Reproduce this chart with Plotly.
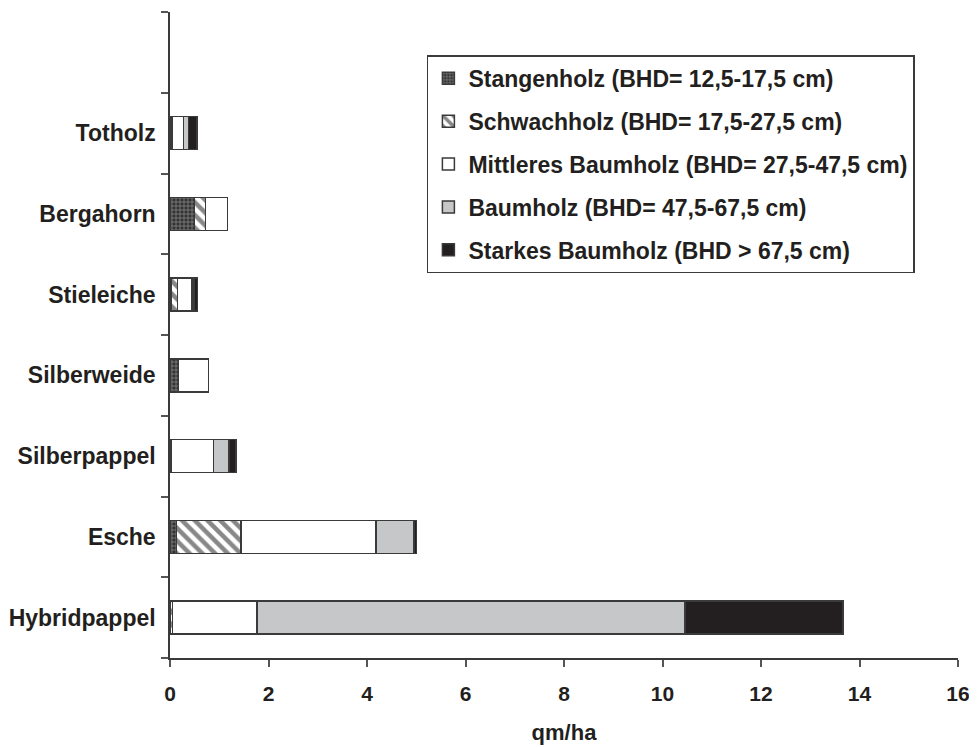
import plotly.graph_objects as go

categories = ["Hybridpappel", "Esche", "Silberpappel", "Silberweide", "Stieleiche", "Bergahorn", "Totholz"]
stangenholz = [0.0, 0.13, 0.0, 0.17, 0.02, 0.50, 0.0]
schwachholz = [0.05, 1.31, 0.03, 0.0, 0.13, 0.22, 0.04]
mittleres = [1.72, 2.74, 0.85, 0.61, 0.30, 0.45, 0.23]
baumholz = [8.69, 0.77, 0.32, 0.0, 0.04, 0.0, 0.11]
starkes = [3.20, 0.05, 0.14, 0.0, 0.07, 0.0, 0.17]

series_names = [
    "Stangenholz (BHD= 12,5-17,5 cm)",
    "Schwachholz (BHD= 17,5-27,5 cm)",
    "Mittleres Baumholz (BHD= 27,5-47,5 cm)",
    "Baumholz (BHD= 47,5-67,5 cm)",
    "Starkes Baumholz (BHD > 67,5 cm)",
]
x_ticks = [0, 2, 4, 6, 8, 10, 12, 14, 16]

styles = [
    dict(color="#3a3a3a", pattern=dict(shape="+", fgcolor="#d8d8d8", bgcolor="#333333", size=4, solidity=0.35)),
    dict(color="#ffffff", pattern=dict(shape="\\", fgcolor="#111111", bgcolor="#ffffff", size=9, solidity=0.5)),
    dict(color="#ffffff"),
    dict(color="#c6c7c9"),
    dict(color="#231f20"),
]

fig = go.Figure()
for i, (name, vals) in enumerate(zip(series_names, [stangenholz, schwachholz, mittleres, baumholz, starkes])):
    marker = dict(styles[i])
    marker["line"] = dict(color="#3a3a3a", width=1.5)
    fig.add_trace(go.Bar(
        y=categories, x=vals, name=name, orientation="h",
        marker=marker, width=0.41, legendgroup=str(i),
    ))

font_main = "Liberation Sans, Arial, sans-serif"
fig.update_layout(
    width=969, height=739,
    margin=dict(l=162, r=19, t=4, b=89),
    barmode="stack",
    plot_bgcolor="white", paper_bgcolor="white",
    font=dict(family=font_main, size=22, color="#231f20", weight="bold"),
    legend=dict(
        x=0.326, y=0.933, xanchor="left", yanchor="top",
        bordercolor="#3a3a3a", borderwidth=1.5, bgcolor="white",
        traceorder="grouped", tracegroupgap=10,
        font=dict(family=font_main, size=23, color="#231f20", weight="bold"),
        itemwidth=30,
    ),
    showlegend=True,
)
fig.update_xaxes(
    range=[0, 16], tickvals=x_ticks, ticktext=[f"<b>{v}</b>" for v in x_ticks],
    showgrid=False, zeroline=False, showline=True, linecolor="#3a3a3a", linewidth=1.5,
    ticks="outside", ticklen=7, tickcolor="#555555", tickwidth=1.5,
    tickfont=dict(family=font_main, size=21, weight="bold", color="#231f20"),
    ticklabelstandoff=9, automargin=False,
    title=dict(text="<b>qm/ha</b>", font=dict(family=font_main, size=22, weight="bold", color="#231f20"), standoff=21),
)
fig.update_yaxes(
    type="category", categoryorder="array", categoryarray=categories + [" "],
    range=[-0.5, 7.5], automargin=False,
    showgrid=False, zeroline=False, showline=True, linecolor="#3a3a3a", linewidth=1.5,
    ticks="outside", ticklen=7, tickcolor="#555555", tickwidth=1.5, tickson="boundaries",
    tickfont=dict(family=font_main, size=23, weight="bold", color="#231f20"),
    ticklabelstandoff=8,
)
fig.write_html("out.html")
